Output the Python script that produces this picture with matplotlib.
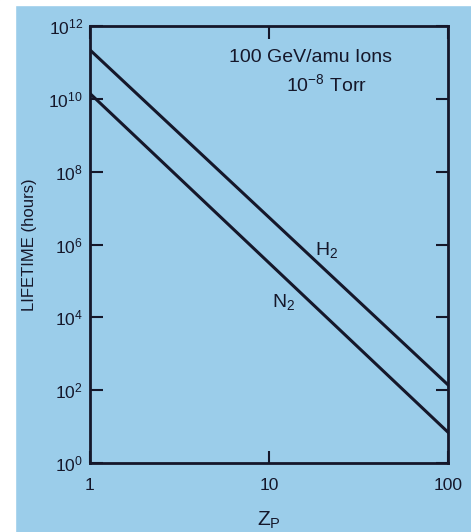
import numpy as np
import matplotlib
matplotlib.use("Agg")
import matplotlib.pyplot as plt
from matplotlib.patches import Rectangle

plt.rcParams["font.family"] = ["Liberation Sans", "DejaVu Sans"]
plt.rcParams["mathtext.fontset"] = "custom"
plt.rcParams["mathtext.rm"] = "Liberation Sans"
plt.rcParams["mathtext.it"] = "Liberation Sans"

# data
zp = [1, 100]
life_h2 = [2.2e11, 1.4e2]
life_n2 = [1.4e10, 7.0]
yticks = [1e0, 1e2, 1e4, 1e6, 1e8, 1e10, 1e12]
ytick_labels = [r"$10^{%d}$" % int(np.log10(v)) for v in yticks]

BG = "#9bcdea"
INK = "#15172a"

fig = plt.figure(figsize=(4.71, 5.32), dpi=100, facecolor=BG)
# white scan margin
fig.patches.append(Rectangle((0, 0), 15 / 471, 1, transform=fig.transFigure,
                             color="white", zorder=0))
fig.patches.append(Rectangle((0, 1 - 5 / 532), 1, 5 / 532, transform=fig.transFigure,
                             color="white", zorder=0))

ax = fig.add_axes([90 / 471, 69 / 532, 358 / 471, 437 / 532])
ax.set_facecolor(BG)
ax.plot(zp, life_h2, color=INK, lw=2.2)
ax.plot(zp, life_n2, color=INK, lw=2.2)
ax.set_xscale("log")
ax.set_yscale("log")
ax.set_xlim(1, 100)
ax.set_ylim(1e0, 1e12)

ax.set_xticks([1, 10, 100])
ax.set_xticklabels(["1", "10", "100"])
ax.set_yticks(yticks)
ax.set_yticklabels(ytick_labels)
ax.minorticks_off()
ax.tick_params(direction="in", length=9, width=1.5, color=INK, labelcolor=INK,
               labelsize=12.5, top=True, right=True, pad=5)
ax.tick_params(axis="x", pad=11)
for s in ax.spines.values():
    s.set_linewidth(2)
    s.set_color(INK)

ax.set_ylabel("LIFETIME (hours)", fontsize=12, color=INK, labelpad=8)
ax.set_xlabel(r"Z$_{\rm P}$", fontsize=15, color=INK, labelpad=12)

ax.text(0.615, 0.928, "100 GeV/amu Ions", transform=ax.transAxes,
        ha="center", va="center", fontsize=14, color=INK)
ax.text(0.66, 0.868, r"$10^{-8}$ Torr", transform=ax.transAxes,
        ha="center", va="center", fontsize=14, color=INK)
ax.text(21.0, 7e5, r"H$_2$", fontsize=14, color=INK, ha="center", va="center")
ax.text(12.1, 2.6e4, r"N$_2$", fontsize=14, color=INK, ha="center", va="center")

fig.savefig("out.png", dpi=100, facecolor=BG)
